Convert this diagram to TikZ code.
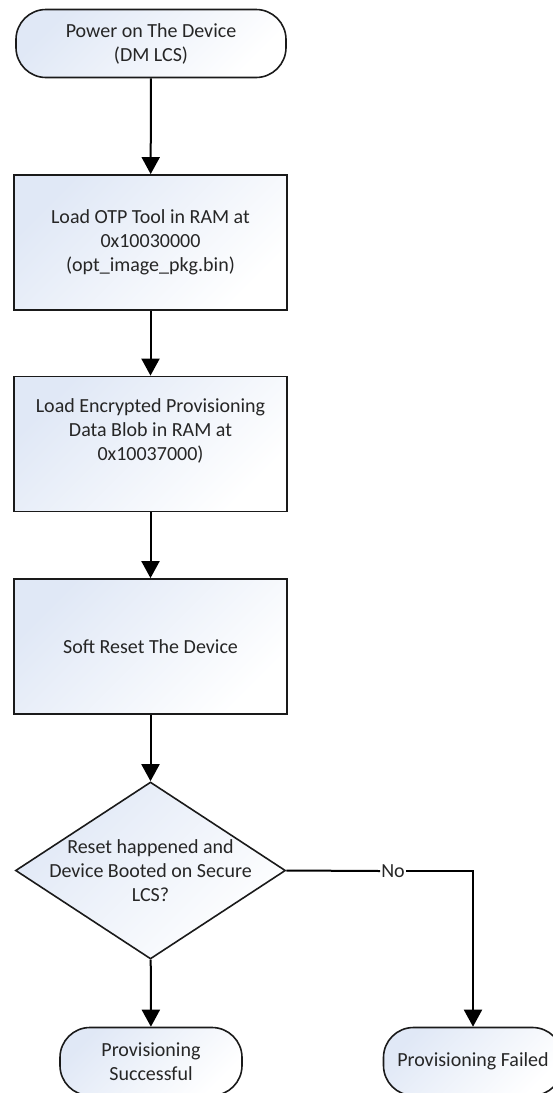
\documentclass[tikz,border=0pt]{standalone}
\usepackage{fontspec}
\setmainfont{Carlito}
\usetikzlibrary{arrows.meta,shapes.geometric}
\definecolor{shadeblue}{HTML}{E0E8F6}
\definecolor{linecol}{HTML}{1A1A1A}
\begin{document}
\begin{tikzpicture}[x=1pt,y=-1pt,
  every node/.style={font=\fontsize{20}{24}\selectfont, align=center, text=black!85},
  shadefill/.style={top color=shadeblue, bottom color=white, shading angle=45},
  term/.style={draw=linecol, line width=1.6pt, shadefill, rounded corners=30pt, minimum height=68pt, inner sep=0pt},
  procbox/.style={draw=linecol, line width=1.8pt, shadefill, minimum width=273pt, minimum height=135pt, inner sep=0pt},
  decision/.style={diamond, draw=linecol, line width=1.6pt, shadefill, minimum width=270pt, minimum height=177pt, inner sep=0pt},
  flow/.style={draw=black, line width=2pt, -{Triangle[length=17pt,width=18pt]}},
  plain/.style={draw=black, line width=2pt}]
\useasboundingbox (0,0) rectangle (553,1093);
\clip (0,0) rectangle (553,1093);

\node[term, minimum width=270pt] (start) at (151,43.5) {Power on The Device\\(DM LCS)};
\node[procbox] (load) at (150.5,242.5) {Load OTP Tool in RAM at\\0x10030000\\(opt\_image\_pkg.bin)};
\node[procbox] (blob) at (150.5,444) {\strut Load Encrypted Provisioning\\Data Blob in RAM at\\0x10037000)\\\strut};
\node[procbox] (reset) at (150.5,646.5) {Soft Reset The Device};
\node[decision] (dec) at (150.5,870.5) {};
\node (dectext) at (150.5,871) {Reset happened and\\Device Booted on Secure\\LCS?};
\node[term, minimum width=182pt] (succ) at (151,1061.5) {Provisioning\\Successful};
\node[term, minimum width=179pt] (fail) at (473,1061.5) {Provisioning Failed};
\node[inner sep=1pt] (no) at (393,871) {No};

\draw[flow] (start) -- (load);
\draw[flow] (load) -- (blob);
\draw[flow] (blob) -- (reset);
\draw[flow] (reset) -- (dec);
\draw[flow] (dec) -- (succ);
\draw[plain] (dec.east) -- (no.west);
\draw[flow] (no.east) -| (fail.north);
\end{tikzpicture}
\end{document}
